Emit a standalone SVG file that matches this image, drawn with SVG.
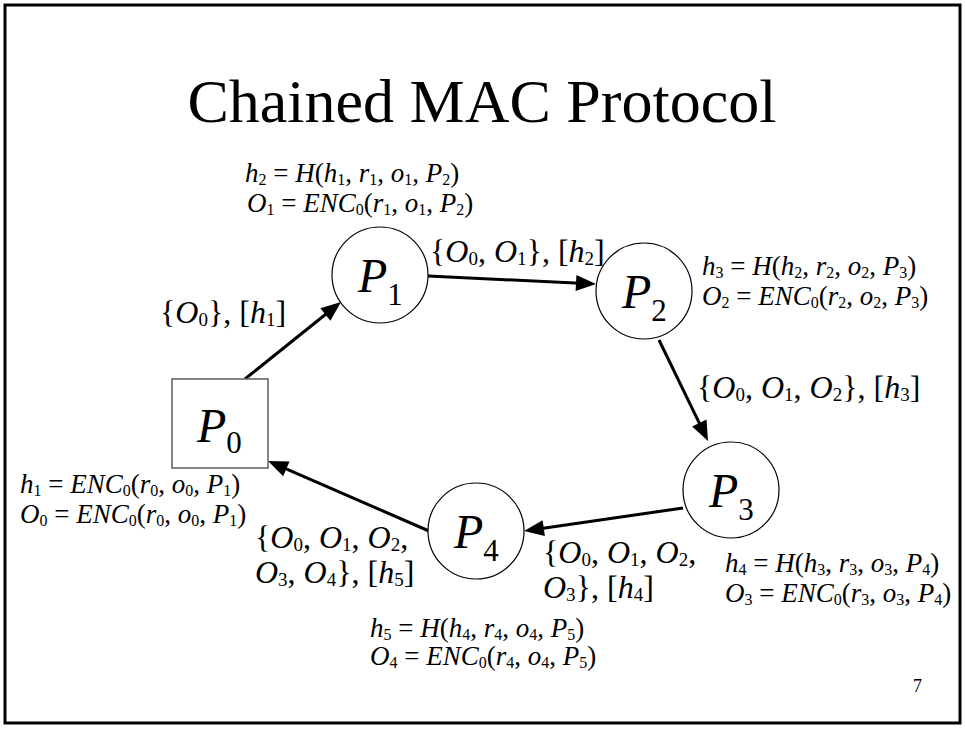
<svg xmlns="http://www.w3.org/2000/svg" width="965" height="729" viewBox="0 0 965 729">
  <rect x="5" y="5" width="955" height="718" fill="#fff" stroke="#000" stroke-width="3"/>
  <text font-family="Liberation Serif" font-size="62" x="482" y="122" text-anchor="middle">Chained MAC Protocol</text>
  <g id="edges" stroke="#000" stroke-width="3">
    <line x1="245" y1="379" x2="328.5" y2="312"/>
    <polygon points="341,302 330.4,320.7 320.4,308.3" stroke="none"/>
    <line x1="428" y1="276" x2="580" y2="283.2"/>
    <polygon points="596,284 575.6,291 576.4,275.1" stroke="none"/>
    <line x1="659" y1="340" x2="701" y2="426.6"/>
    <polygon points="708,441 692.1,426.5 706.5,419.5" stroke="none"/>
    <line x1="683" y1="508" x2="539.8" y2="528.7"/>
    <polygon points="524,531 542.6,520.2 544.9,536.1" stroke="none"/>
    <line x1="429" y1="531" x2="282.7" y2="467.4"/>
    <polygon points="268,461 289.5,461.6 283.2,476.3" stroke="none"/>
  </g>
  <g id="P0">
    <rect x="172" y="379" width="96" height="89" fill="#fff" stroke="#666" stroke-width="1.6"/>
    <text font-family="Liberation Serif" font-size="48" x="197" y="442"><tspan font-style="italic">P</tspan><tspan font-size="31" dy="11">0</tspan></text>
  </g>
  <g id="P1">
    <circle cx="380" cy="275" r="48" fill="#fff" stroke="#000" stroke-width="1.2"/>
    <text font-family="Liberation Serif" font-size="48" x="358" y="292"><tspan font-style="italic">P</tspan><tspan font-size="31" dy="13">1</tspan></text>
  </g>
  <g id="P2">
    <circle cx="644" cy="291" r="48" fill="#fff" stroke="#000" stroke-width="1.2"/>
    <text font-family="Liberation Serif" font-size="48" x="622" y="308"><tspan font-style="italic">P</tspan><tspan font-size="31" dy="13">2</tspan></text>
  </g>
  <g id="P3">
    <circle cx="731" cy="490" r="48" fill="#fff" stroke="#000" stroke-width="1.2"/>
    <text font-family="Liberation Serif" font-size="48" x="709" y="507"><tspan font-style="italic">P</tspan><tspan font-size="31" dy="13">3</tspan></text>
  </g>
  <g id="P4">
    <circle cx="476" cy="531" r="48" fill="#fff" stroke="#000" stroke-width="1.2"/>
    <text font-family="Liberation Serif" font-size="48" x="454" y="548"><tspan font-style="italic">P</tspan><tspan font-size="31" dy="13">4</tspan></text>
  </g>
  <g id="edge-labels" font-family="Liberation Serif" font-size="32">
    <text font-family="Liberation Serif" x="160" y="323">{<tspan font-style="italic">O</tspan><tspan font-size="19" dy="3">0</tspan><tspan dy="-3">}, [</tspan><tspan font-style="italic">h</tspan><tspan font-size="19" dy="3">1</tspan><tspan dy="-3">]</tspan></text>
    <text font-family="Liberation Serif" x="430" y="262">{<tspan font-style="italic">O</tspan><tspan font-size="19" dy="3">0</tspan><tspan dy="-3">, </tspan><tspan font-style="italic">O</tspan><tspan font-size="19" dy="3">1</tspan><tspan dy="-3">}, [</tspan><tspan font-style="italic">h</tspan><tspan font-size="19" dy="3">2</tspan><tspan dy="-3">]</tspan></text>
    <text font-family="Liberation Serif" x="697" y="398">{<tspan font-style="italic">O</tspan><tspan font-size="19" dy="3">0</tspan><tspan dy="-3">, </tspan><tspan font-style="italic">O</tspan><tspan font-size="19" dy="3">1</tspan><tspan dy="-3">, </tspan><tspan font-style="italic">O</tspan><tspan font-size="19" dy="3">2</tspan><tspan dy="-3">}, [</tspan><tspan font-style="italic">h</tspan><tspan font-size="19" dy="3">3</tspan><tspan dy="-3">]</tspan></text>
    <text font-family="Liberation Serif" x="543" y="563">{<tspan font-style="italic">O</tspan><tspan font-size="19" dy="3">0</tspan><tspan dy="-3">, </tspan><tspan font-style="italic">O</tspan><tspan font-size="19" dy="3">1</tspan><tspan dy="-3">, </tspan><tspan font-style="italic">O</tspan><tspan font-size="19" dy="3">2</tspan><tspan dy="-3">,</tspan></text>
    <text font-family="Liberation Serif" x="543" y="598"><tspan font-style="italic">O</tspan><tspan font-size="19" dy="3">3</tspan><tspan dy="-3">}, [</tspan><tspan font-style="italic">h</tspan><tspan font-size="19" dy="3">4</tspan><tspan dy="-3">]</tspan></text>
    <text font-family="Liberation Serif" x="255" y="548">{<tspan font-style="italic">O</tspan><tspan font-size="19" dy="3">0</tspan><tspan dy="-3">, </tspan><tspan font-style="italic">O</tspan><tspan font-size="19" dy="3">1</tspan><tspan dy="-3">, </tspan><tspan font-style="italic">O</tspan><tspan font-size="19" dy="3">2</tspan><tspan dy="-3">,</tspan></text>
    <text font-family="Liberation Serif" x="255" y="583"><tspan font-style="italic">O</tspan><tspan font-size="19" dy="3">3</tspan><tspan dy="-3">, </tspan><tspan font-style="italic">O</tspan><tspan font-size="19" dy="3">4</tspan><tspan dy="-3">}, [</tspan><tspan font-style="italic">h</tspan><tspan font-size="19" dy="3">5</tspan><tspan dy="-3">]</tspan></text>
  </g>
  <g id="formulas" font-family="Liberation Serif" font-size="27">
    <text font-family="Liberation Serif" x="245" y="182"><tspan font-style="italic">h</tspan><tspan font-size="16" dy="3">2</tspan><tspan dy="-3"> = </tspan><tspan font-style="italic">H</tspan>(<tspan font-style="italic">h</tspan><tspan font-size="16" dy="3">1</tspan><tspan dy="-3">, </tspan><tspan font-style="italic">r</tspan><tspan font-size="16" dy="3">1</tspan><tspan dy="-3">, </tspan><tspan font-style="italic">o</tspan><tspan font-size="16" dy="3">1</tspan><tspan dy="-3">, </tspan><tspan font-style="italic">P</tspan><tspan font-size="16" dy="3">2</tspan><tspan dy="-3">)</tspan></text>
    <text font-family="Liberation Serif" x="247" y="212"><tspan font-style="italic">O</tspan><tspan font-size="16" dy="3">1</tspan><tspan dy="-3"> = </tspan><tspan font-style="italic">ENC</tspan><tspan font-size="16" dy="3">0</tspan><tspan dy="-3">(</tspan><tspan font-style="italic">r</tspan><tspan font-size="16" dy="3">1</tspan><tspan dy="-3">, </tspan><tspan font-style="italic">o</tspan><tspan font-size="16" dy="3">1</tspan><tspan dy="-3">, </tspan><tspan font-style="italic">P</tspan><tspan font-size="16" dy="3">2</tspan><tspan dy="-3">)</tspan></text>
    <text font-family="Liberation Serif" x="702" y="275"><tspan font-style="italic">h</tspan><tspan font-size="16" dy="3">3</tspan><tspan dy="-3"> = </tspan><tspan font-style="italic">H</tspan>(<tspan font-style="italic">h</tspan><tspan font-size="16" dy="3">2</tspan><tspan dy="-3">, </tspan><tspan font-style="italic">r</tspan><tspan font-size="16" dy="3">2</tspan><tspan dy="-3">, </tspan><tspan font-style="italic">o</tspan><tspan font-size="16" dy="3">2</tspan><tspan dy="-3">, </tspan><tspan font-style="italic">P</tspan><tspan font-size="16" dy="3">3</tspan><tspan dy="-3">)</tspan></text>
    <text font-family="Liberation Serif" x="702" y="305"><tspan font-style="italic">O</tspan><tspan font-size="16" dy="3">2</tspan><tspan dy="-3"> = </tspan><tspan font-style="italic">ENC</tspan><tspan font-size="16" dy="3">0</tspan><tspan dy="-3">(</tspan><tspan font-style="italic">r</tspan><tspan font-size="16" dy="3">2</tspan><tspan dy="-3">, </tspan><tspan font-style="italic">o</tspan><tspan font-size="16" dy="3">2</tspan><tspan dy="-3">, </tspan><tspan font-style="italic">P</tspan><tspan font-size="16" dy="3">3</tspan><tspan dy="-3">)</tspan></text>
    <text font-family="Liberation Serif" x="20" y="493"><tspan font-style="italic">h</tspan><tspan font-size="16" dy="3">1</tspan><tspan dy="-3"> = </tspan><tspan font-style="italic">ENC</tspan><tspan font-size="16" dy="3">0</tspan><tspan dy="-3">(</tspan><tspan font-style="italic">r</tspan><tspan font-size="16" dy="3">0</tspan><tspan dy="-3">, </tspan><tspan font-style="italic">o</tspan><tspan font-size="16" dy="3">0</tspan><tspan dy="-3">, </tspan><tspan font-style="italic">P</tspan><tspan font-size="16" dy="3">1</tspan><tspan dy="-3">)</tspan></text>
    <text font-family="Liberation Serif" x="20" y="523"><tspan font-style="italic">O</tspan><tspan font-size="16" dy="3">0</tspan><tspan dy="-3"> = </tspan><tspan font-style="italic">ENC</tspan><tspan font-size="16" dy="3">0</tspan><tspan dy="-3">(</tspan><tspan font-style="italic">r</tspan><tspan font-size="16" dy="3">0</tspan><tspan dy="-3">, </tspan><tspan font-style="italic">o</tspan><tspan font-size="16" dy="3">0</tspan><tspan dy="-3">, </tspan><tspan font-style="italic">P</tspan><tspan font-size="16" dy="3">1</tspan><tspan dy="-3">)</tspan></text>
    <text font-family="Liberation Serif" x="725" y="572"><tspan font-style="italic">h</tspan><tspan font-size="16" dy="3">4</tspan><tspan dy="-3"> = </tspan><tspan font-style="italic">H</tspan>(<tspan font-style="italic">h</tspan><tspan font-size="16" dy="3">3</tspan><tspan dy="-3">, </tspan><tspan font-style="italic">r</tspan><tspan font-size="16" dy="3">3</tspan><tspan dy="-3">, </tspan><tspan font-style="italic">o</tspan><tspan font-size="16" dy="3">3</tspan><tspan dy="-3">, </tspan><tspan font-style="italic">P</tspan><tspan font-size="16" dy="3">4</tspan><tspan dy="-3">)</tspan></text>
    <text font-family="Liberation Serif" x="725" y="602"><tspan font-style="italic">O</tspan><tspan font-size="16" dy="3">3</tspan><tspan dy="-3"> = </tspan><tspan font-style="italic">ENC</tspan><tspan font-size="16" dy="3">0</tspan><tspan dy="-3">(</tspan><tspan font-style="italic">r</tspan><tspan font-size="16" dy="3">3</tspan><tspan dy="-3">, </tspan><tspan font-style="italic">o</tspan><tspan font-size="16" dy="3">3</tspan><tspan dy="-3">, </tspan><tspan font-style="italic">P</tspan><tspan font-size="16" dy="3">4</tspan><tspan dy="-3">)</tspan></text>
    <text font-family="Liberation Serif" x="370" y="637"><tspan font-style="italic">h</tspan><tspan font-size="16" dy="3">5</tspan><tspan dy="-3"> = </tspan><tspan font-style="italic">H</tspan>(<tspan font-style="italic">h</tspan><tspan font-size="16" dy="3">4</tspan><tspan dy="-3">, </tspan><tspan font-style="italic">r</tspan><tspan font-size="16" dy="3">4</tspan><tspan dy="-3">, </tspan><tspan font-style="italic">o</tspan><tspan font-size="16" dy="3">4</tspan><tspan dy="-3">, </tspan><tspan font-style="italic">P</tspan><tspan font-size="16" dy="3">5</tspan><tspan dy="-3">)</tspan></text>
    <text font-family="Liberation Serif" x="370" y="665"><tspan font-style="italic">O</tspan><tspan font-size="16" dy="3">4</tspan><tspan dy="-3"> = </tspan><tspan font-style="italic">ENC</tspan><tspan font-size="16" dy="3">0</tspan><tspan dy="-3">(</tspan><tspan font-style="italic">r</tspan><tspan font-size="16" dy="3">4</tspan><tspan dy="-3">, </tspan><tspan font-style="italic">o</tspan><tspan font-size="16" dy="3">4</tspan><tspan dy="-3">, </tspan><tspan font-style="italic">P</tspan><tspan font-size="16" dy="3">5</tspan><tspan dy="-3">)</tspan></text>
  </g>
  <text font-family="Liberation Serif" font-size="18" x="913" y="692">7</text>
</svg>
